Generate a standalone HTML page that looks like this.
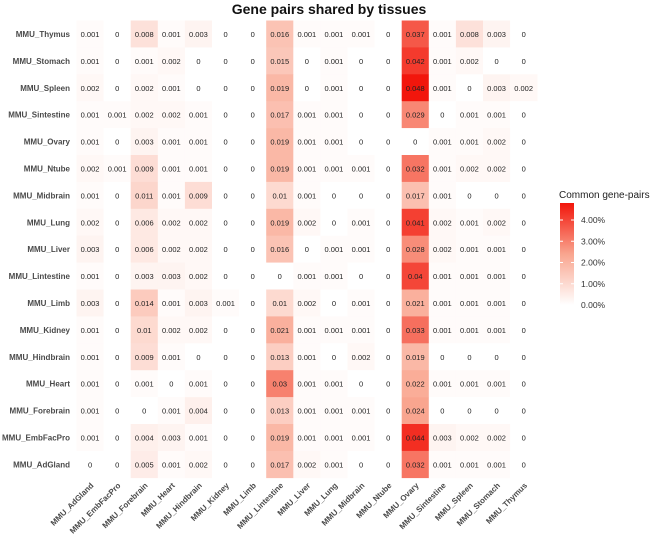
<!DOCTYPE html>
<html><head><meta charset="utf-8"><style>
body{margin:0;background:#fff;width:658px;height:540px;overflow:hidden}
svg{font-family:"Liberation Sans",Arial,sans-serif}
</style></head><body>
<svg id="chart" width="658" height="540">
<text x="329" y="14" text-anchor="middle" font-size="14" font-weight="bold" fill="#111">Gene pairs shared by tissues</text>
<g id="cells"></g><g id="rowlabels"></g><g id="collabels"></g>
<g id="legend">
<defs><linearGradient id="lg" x1="0" y1="1" x2="0" y2="0">
<stop offset="0" stop-color="#ffffff"/><stop offset="0.5" stop-color="#f9a58f"/><stop offset="1" stop-color="#f2160c"/></linearGradient></defs>
<text x="559" y="198" font-size="10" fill="#222">Common gene-pairs</text>
</g>
</svg>
<script>
const rows=["MMU_Thymus","MMU_Stomach","MMU_Spleen","MMU_Sintestine","MMU_Ovary","MMU_Ntube","MMU_Midbrain","MMU_Lung","MMU_Liver","MMU_Lintestine","MMU_Limb","MMU_Kidney","MMU_Hindbrain","MMU_Heart","MMU_Forebrain","MMU_EmbFacPro","MMU_AdGland"];
const cols=["MMU_AdGland","MMU_EmbFacPro","MMU_Forebrain","MMU_Heart","MMU_Hindbrain","MMU_Kidney","MMU_Limb","MMU_Lintestine","MMU_Liver","MMU_Lung","MMU_Midbrain","MMU_Ntube","MMU_Ovary","MMU_Sintestine","MMU_Spleen","MMU_Stomach","MMU_Thymus"];
const rThymus=[.001,0,.008,.001,.003,0,0,.016,.001,.001,.001,0,.037,.001,.008,.003,0];
const rStomach=[.001,0,.001,.002,0,0,0,.015,0,.001,0,0,.042,.001,.002,0,0];
const rSpleen=[.002,0,.002,.001,0,0,0,.019,0,.001,0,0,.048,.001,0,.003,.002];
const rSintestine=[.001,.001,.002,.002,.001,0,0,.017,.001,.001,0,0,.029,0,.001,.001,0];
const rOvary=[.001,0,.003,.001,.001,0,0,.019,.001,.001,0,0,0,.001,.001,.002,0];
const rNtube=[.002,.001,.009,.001,.001,0,0,.019,.001,.001,.001,0,.032,.001,.002,.002,0];
const rMidbrain=[.001,0,.011,.001,.009,0,0,.01,.001,0,0,0,.017,.001,0,0,0];
const rLung=[.002,0,.006,.002,.002,0,0,.019,.002,0,.001,0,.041,.002,.001,.002,0];
const rLiver=[.003,0,.006,.002,.002,0,0,.016,0,.001,.001,0,.028,.002,.001,.001,0];
const rLintestine=[.001,0,.003,.003,.002,0,0,0,.001,.001,0,0,.04,.001,.001,.001,0];
const rLimb=[.003,0,.014,.001,.003,.001,0,.01,.002,0,.001,0,.021,.001,.001,.001,0];
const rKidney=[.001,0,.01,.002,.002,0,0,.021,.001,.001,.001,0,.033,.001,.001,.001,0];
const rHindbrain=[.001,0,.009,.001,0,0,0,.013,.001,0,.002,0,.019,0,0,0,0];
const rHeart=[.001,0,.001,0,.001,0,0,.03,.001,.001,0,0,.022,.001,.001,.001,0];
const rForebrain=[.001,0,0,.001,.004,0,0,.013,.001,.001,.001,0,.024,0,0,0,0];
const rEmbFacPro=[.001,0,.004,.003,.001,0,0,.019,.001,.001,.001,0,.044,.003,.002,.002,0];
const rAdGland=[0,0,.005,.001,.002,0,0,.017,.002,.001,0,0,.032,.001,.001,.001,0];
const values=[rThymus,rStomach,rSpleen,rSintestine,rOvary,rNtube,rMidbrain,rLung,rLiver,rLintestine,rLimb,rKidney,rHindbrain,rHeart,rForebrain,rEmbFacPro,rAdGland];
const legendTicks=[0,0.01,0.02,0.03,0.04];
const legendLabels=["0.00%","1.00%","2.00%","3.00%","4.00%"];
const vmax=0.048;
const NS="http://www.w3.org/2000/svg";
const X0=76.5,Y0=20.5,CW=27.1,CH=26.9;
const xPos=i=>X0+i*CW, yPos=j=>Y0+j*CH;
function col(v){let t=Math.min(1,v/vmax);let a,b,s;
 const w=[255,255,255],m=[249,165,143],r=[242,22,12];
 if(t<.5){a=w;b=m;s=t/.5}else{a=m;b=r;s=(t-.5)/.5}
 return `rgb(${a.map((c,k)=>Math.round(c+(b[k]-c)*s)).join(',')})`;}
function mk(tag,at,parent){const e=document.createElementNS(NS,tag);for(const k in at)e.setAttribute(k,at[k]);parent.appendChild(e);return e;}
const gc=document.getElementById('cells');
values.forEach((row,j)=>row.forEach((v,i)=>{
 const r=mk('rect',{x:xPos(i),y:yPos(j),width:CW+0.3,height:CH+0.3,fill:col(v)},gc);
 
 
 const t=mk('text',{x:xPos(i)+CW/2,y:yPos(j)+CH/2+3,'text-anchor':'middle','font-size':'7.5',fill:'#222'},gc);
 t.textContent=String(v);
 
 
}));
const gr=document.getElementById('rowlabels');
rows.forEach((n,j)=>{const t=mk('text',{x:70,y:yPos(j)+CH/2+3,'text-anchor':'end','font-size':'8','font-weight':'bold',fill:'#4a4a4a'},gr);
 t.textContent=n;
 
 });
const gx=document.getElementById('collabels');
cols.forEach((n,i)=>{const cx=xPos(i)+CW/2+4,cy=486;
 const t=mk('text',{x:cx,y:cy,'text-anchor':'end','font-size':'8','font-weight':'bold',fill:'#4a4a4a',transform:`rotate(-45 ${cx} ${cy})`},gx);
 t.textContent=n;
 
 });
const lg=document.getElementById('legend');
const LB0=305,LPX=21.25;
const bar=mk('rect',{x:560,y:LB0-vmax*100*LPX,width:14,height:vmax*100*LPX,fill:'url(#lg)'},lg);


legendTicks.forEach((v,k)=>{const y=LB0-v*100*LPX;
 mk('line',{x1:560,x2:563,y1:y,y2:y,stroke:'#fff'},lg);
 mk('line',{x1:571,x2:574,y1:y,y2:y,stroke:'#fff'},lg);
 const t=mk('text',{x:581,y:y+3,'font-size':'8.5',fill:'#333'},lg);
 t.textContent=legendLabels[k];
 
 });
</script>
</body></html>
